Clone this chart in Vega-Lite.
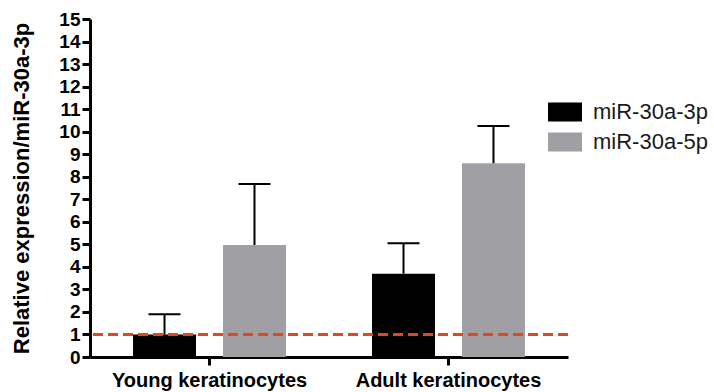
{
  "$schema": "https://vega.github.io/schema/vega-lite/v6.json",
  "width": 478,
  "height": 338,
  "autosize": {"type": "none"},
  "padding": {"left": 90, "top": 19, "right": 146, "bottom": 35},
  "background": "white",
  "config": {
    "view": {"stroke": null},
    "font": "Liberation Sans",
    "axisY": {
      "grid": false,
      "labelOverlap": false,
      "labelFlush": false,
      "domainWidth": 3,
      "domainColor": "black",
      "tickWidth": 3,
      "tickColor": "black",
      "tickSize": 8,
      "labelFontSize": 19,
      "labelFontWeight": "bold",
      "labelColor": "black",
      "labelPadding": 2,
      "titleFontSize": 22,
      "titleFontWeight": "bold",
      "titleColor": "black",
      "titlePadding": 25
    }
  },
  "data": {
    "values": [
      {"group": "Young keratinocytes", "miRNA": "miR-30a-3p", "value": 1.0, "upper": 1.9},
      {"group": "Young keratinocytes", "miRNA": "miR-30a-5p", "value": 4.97, "upper": 7.68},
      {"group": "Adult keratinocytes", "miRNA": "miR-30a-3p", "value": 3.7, "upper": 5.05},
      {"group": "Adult keratinocytes", "miRNA": "miR-30a-5p", "value": 8.6, "upper": 10.25}
    ]
  },
  "encoding": {
    "x": {
      "field": "group",
      "type": "nominal",
      "sort": ["Young keratinocytes", "Adult keratinocytes"],
      "scale": {"paddingInner": 0, "paddingOuter": 0},
      "axis": {
        "title": null,
        "labelAngle": 0,
        "labelFontSize": 20,
        "labelFontWeight": "bold",
        "labelColor": "black",
        "labelLimit": 0,
        "domainWidth": 3,
        "domainColor": "black",
        "tickWidth": 3,
        "tickColor": "black",
        "tickSize": 8,
        "labelPadding": 5,
        "bandPosition": 0.5
      }
    },
    "xOffset": {
      "field": "miRNA",
      "type": "nominal",
      "sort": ["miR-30a-3p", "miR-30a-5p"],
      "scale": {"paddingInner": 0.3, "paddingOuter": 0.478}
    }
  },
  "layer": [
    {
      "mark": {"type": "bar"},
      "encoding": {
        "y": {
          "field": "value",
          "type": "quantitative",
          "scale": {"domain": [0, 15], "nice": false},
          "axis": {
            "title": "Relative expression/miR-30a-3p",
            "values": [0, 1, 2, 3, 4, 5, 6, 7, 8, 9, 10, 11, 12, 13, 14, 15]
          }
        },
        "color": {
          "field": "miRNA",
          "type": "nominal",
          "sort": ["miR-30a-3p", "miR-30a-5p"],
          "scale": {"range": ["#000000", "#a0a0a4"]},
          "legend": {
            "orient": "none",
            "legendX": 458,
            "legendY": 78,
            "title": null,
            "symbolType": "M-1,-0.56H1V0.56H-1Z",
            "symbolSize": 1156,
            "symbolStrokeWidth": 0,
            "symbolOpacity": 1,
            "labelFontSize": 22,
            "labelColor": "#1a1a1a",
            "labelOffset": 11,
            "clipHeight": 30,
            "rowPadding": 0
          }
        }
      }
    },
    {
      "mark": {"type": "rule", "strokeWidth": 2, "color": "black"},
      "encoding": {
        "y": {
          "field": "value",
          "type": "quantitative",
          "axis": {
            "title": "Relative expression/miR-30a-3p",
            "values": [0, 1, 2, 3, 4, 5, 6, 7, 8, 9, 10, 11, 12, 13, 14, 15]
          }
        },
        "y2": {"field": "upper"}
      }
    },
    {
      "mark": {"type": "tick", "size": 32, "thickness": 2, "color": "black", "opacity": 1},
      "encoding": {
        "y": {
          "field": "upper",
          "type": "quantitative",
          "axis": {
            "title": "Relative expression/miR-30a-3p",
            "values": [0, 1, 2, 3, 4, 5, 6, 7, 8, 9, 10, 11, 12, 13, 14, 15]
          }
        }
      }
    },
    {
      "data": {"values": [{"ref": 1}]},
      "mark": {"type": "rule", "color": "#dc4a1f", "strokeWidth": 3, "strokeDash": [10, 5]},
      "encoding": {
        "x": null,
        "xOffset": null,
        "y": {
          "field": "ref",
          "type": "quantitative",
          "axis": {
            "title": "Relative expression/miR-30a-3p",
            "values": [0, 1, 2, 3, 4, 5, 6, 7, 8, 9, 10, 11, 12, 13, 14, 15]
          }
        }
      }
    }
  ]
}
